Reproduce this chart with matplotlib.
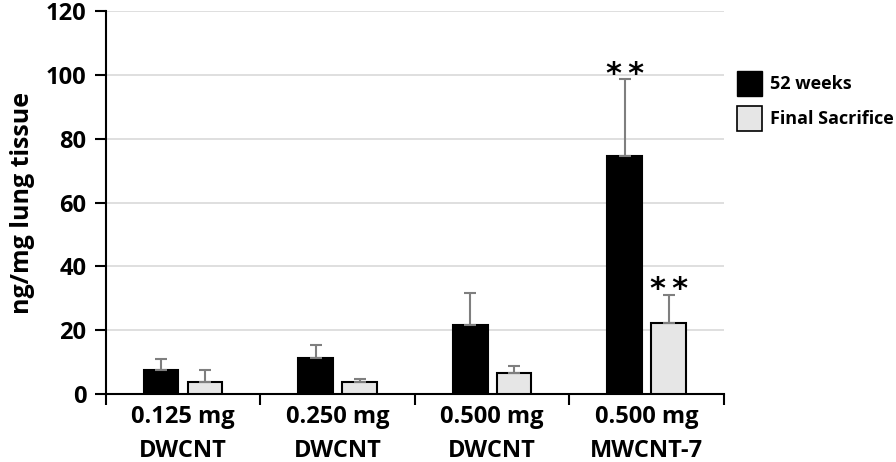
import matplotlib
matplotlib.use("Agg")
import matplotlib.pyplot as plt
import numpy as np
from matplotlib.patches import Patch

plt.rcParams['font.family'] = ['Open Sans', 'DejaVu Sans']
plt.rcParams['font.weight'] = 'bold'

# ------------------------------ Data ------------------------------
categories = ['0.125 mg\nDWCNT', '0.250 mg\nDWCNT', '0.500 mg\nDWCNT', '0.500 mg\nMWCNT-7']
weeks52 = [7.5, 11.3, 21.6, 74.6]
weeks52_err = [3.5, 4.1, 10.0, 24.0]
final_sac = [3.8, 3.8, 6.7, 22.4]
final_sac_err = [3.6, 0.8, 2.0, 8.8]
series_names = ['52 weeks', 'Final Sacrifice']
yticks = [0, 20, 40, 60, 80, 100, 120]

# ------------------------------ Plot ------------------------------
fig = plt.figure(figsize=(8.96, 4.62), dpi=100)
ax = fig.add_axes([0.118, 0.147, 0.690, 0.829])

x = np.arange(len(categories))
width = 0.225
off = 0.142

ax.bar(x - off, weeks52, width, color='black', edgecolor='black', linewidth=1.5, zorder=3)
ax.bar(x + off, final_sac, width, color='#e6e6e6', edgecolor='black', linewidth=1.5, zorder=3)

# plus-only error bars (caps at both ends, like the source)
for xs, vals, errs in [(x - off, weeks52, weeks52_err), (x + off, final_sac, final_sac_err)]:
    ax.errorbar(xs, vals, yerr=[np.zeros(len(vals)), errs], fmt='none', ecolor='#7f7f7f',
                elinewidth=1.5, capsize=4, capthick=1.5, zorder=4)

# significance markers
ax.text(x[3] - off, weeks52[3] + weeks52_err[3] - 1.0, '*\u2009*', ha='center', va='baseline',
        fontsize=22, fontweight='bold', family='DejaVu Sans')
ax.text(x[3] + off, final_sac[3] + final_sac_err[3] - 1.0, '*\u2009*', ha='center', va='baseline',
        fontsize=22, fontweight='bold', family='DejaVu Sans')

ax.set_xlim(-0.5, len(categories) - 0.5)
ax.set_ylim(0, 120)
ax.set_yticks(yticks)
ax.set_yticklabels([str(t) for t in yticks], fontsize=17, fontweight='bold')
ax.yaxis.grid(True, color='#d9d9d9', linewidth=1.2, zorder=0)
ax.set_axisbelow(True)

ax.set_xticks(np.arange(-0.5, len(categories), 1.0))
ax.set_xticklabels([])
ax.set_xticks(x, minor=True)
ax.set_xticklabels(categories, minor=True, fontsize=17, fontweight='bold', linespacing=1.55)
ax.tick_params(axis='x', which='minor', length=0, pad=8)
ax.tick_params(axis='x', which='major', length=8, width=1.5, direction='out')
ax.tick_params(axis='y', length=8, width=1.5, direction='out', pad=6)

for s in ['top', 'right']:
    ax.spines[s].set_visible(False)
for s in ['left', 'bottom']:
    ax.spines[s].set_linewidth(1.5)

ax.set_ylabel('ng/mg lung tissue', fontsize=18, fontweight='bold', labelpad=8)

handles = [Patch(facecolor='black', edgecolor='black'),
           Patch(facecolor='#e6e6e6', edgecolor='black', linewidth=1.2)]
fig.legend(handles, series_names, loc='upper left', bbox_to_anchor=(0.814, 0.862),
           frameon=False, fontsize=13, handlelength=1.4, handleheight=1.75,
           labelspacing=0.55, handletextpad=0.45, borderaxespad=0)

fig.savefig('out.png', dpi=100)
